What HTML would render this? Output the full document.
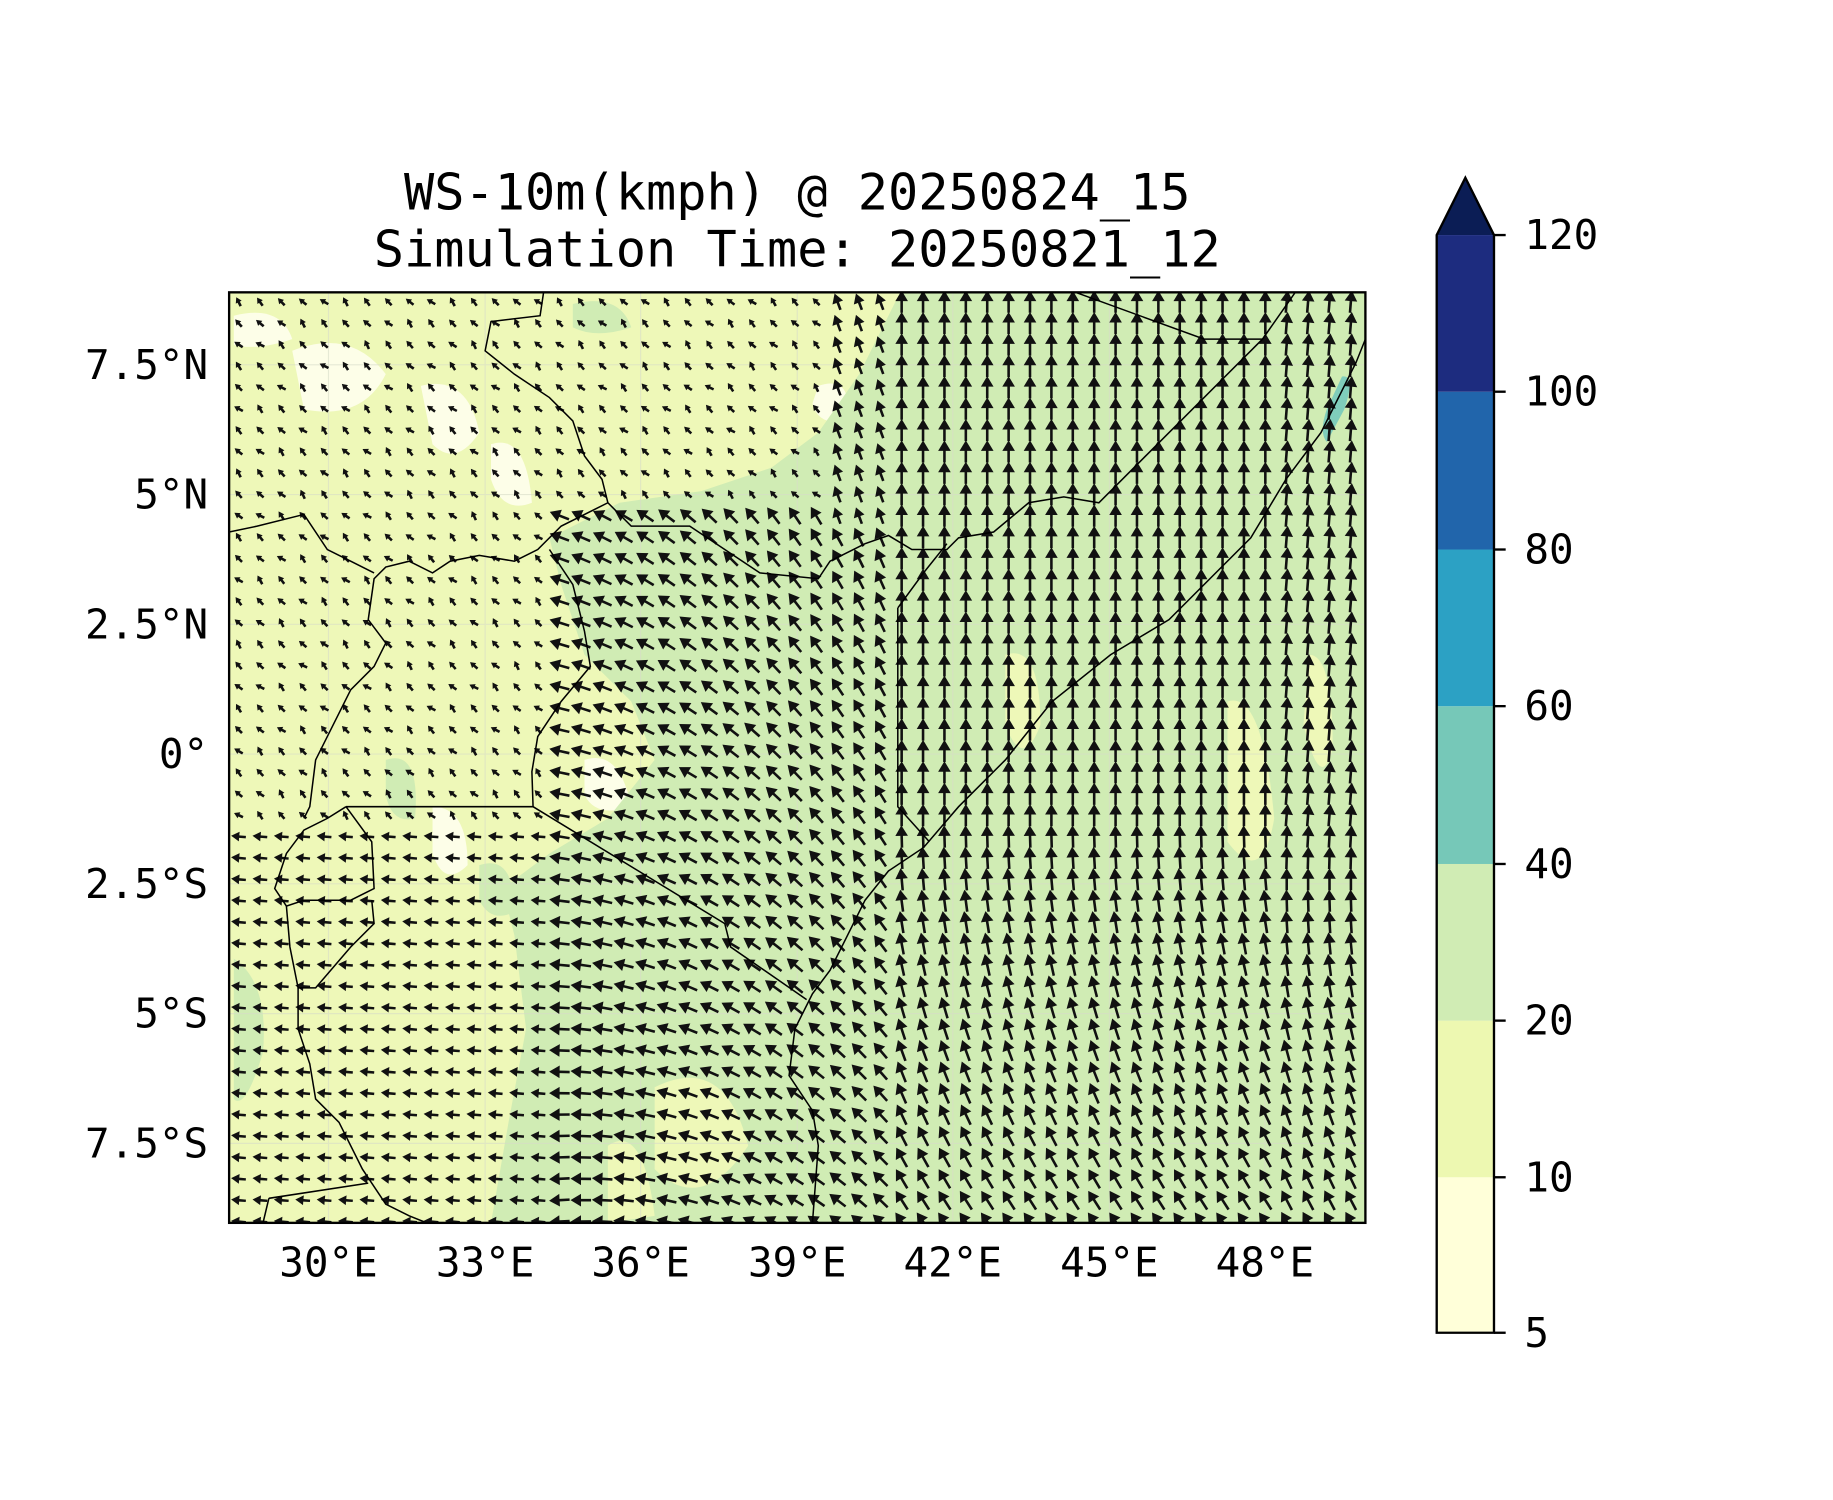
<!DOCTYPE html>
<html><head><meta charset="utf-8"><style>
html,body{margin:0;padding:0;background:#fff;}
svg{display:block;}
text{font-family:"DejaVu Sans Mono","Liberation Mono",monospace;fill:#000;}
</style></head><body>
<svg id="s" width="1833" height="1500" viewBox="0 0 1568 1283" xmlns="http://www.w3.org/2000/svg">
<defs><clipPath id="mc"><rect x="196" y="250" width="972" height="796"/></clipPath></defs>
<text x="682" y="179" font-size="43" text-anchor="middle">WS-10m(kmph) @ 20250824_15</text>
<text x="682" y="228" font-size="43" text-anchor="middle">Simulation Time: 20250821_12</text>
<g clip-path="url(#mc)">
<rect x="196" y="250" width="972" height="796" fill="#eef8b8"/>
<g fill="#fdfee8">
<path d="M250 300 Q300 280 330 320 Q310 360 260 350 Z"/>
<path d="M360 330 Q400 320 410 370 Q390 400 370 380 Z"/>
<path d="M420 380 Q450 370 455 430 Q430 440 420 410 Z"/>
<path d="M200 270 Q240 260 250 290 Q220 300 200 295 Z"/>
<path d="M700 330 Q730 320 725 360 Q700 365 695 345 Z"/>
<path d="M500 650 Q530 640 540 690 Q510 700 500 680 Z"/>
<path d="M370 690 Q400 690 400 740 Q380 760 370 730 Z"/>
</g>
<path fill="#d0ecb4" d="M770 250 L1168 250 L1168 1046 L420 1046 L435 960 L450 880 L440 800 L430 760 L470 730 L520 700 L560 650 L540 600 L500 560 L480 500 L470 460 L530 430 L600 420 L660 400 L700 370 L735 320 L760 270 Z"/>
<g fill="#eef8b8">
<path d="M860 560 Q890 550 890 620 Q875 660 860 620 Z"/>
<path d="M1050 600 Q1080 590 1090 700 Q1080 760 1050 720 Z"/>
<path d="M1120 560 Q1140 560 1140 640 Q1130 680 1115 620 Z"/>
<path d="M560 930 Q620 900 640 980 Q600 1040 560 1000 Z"/>
<path d="M520 980 Q550 960 560 1040 L520 1046 Z"/>
</g>
<g fill="#d0ecb4">
<path d="M200 820 Q230 840 225 900 Q210 950 200 940 Z"/>
<path d="M330 650 Q360 640 355 700 Q335 705 330 680 Z"/>
<path d="M410 740 Q440 730 440 780 Q420 790 410 770 Z"/>
<path d="M490 260 Q530 250 540 280 Q510 290 490 280 Z"/>
</g>
<path fill="#7fcdbb" d="M1148 322 Q1160 320 1150 350 L1135 378 Q1128 370 1135 350 Z"/>
<g stroke="#d8dcc8" stroke-width="1" opacity="0.6">
<line x1="281" y1="250" x2="281" y2="1046"/><line x1="415" y1="250" x2="415" y2="1046"/><line x1="548" y1="250" x2="548" y2="1046"/><line x1="682" y1="250" x2="682" y2="1046"/><line x1="815" y1="250" x2="815" y2="1046"/><line x1="949" y1="250" x2="949" y2="1046"/><line x1="1082" y1="250" x2="1082" y2="1046"/>
<line x1="196" y1="312" x2="1168" y2="312"/><line x1="196" y1="423" x2="1168" y2="423"/><line x1="196" y1="534" x2="1168" y2="534"/><line x1="196" y1="645" x2="1168" y2="645"/><line x1="196" y1="756" x2="1168" y2="756"/><line x1="196" y1="867" x2="1168" y2="867"/><line x1="196" y1="978" x2="1168" y2="978"/>
</g>
<g id="arrows" fill="#111"></g>
<g fill="none" stroke="#000" stroke-width="1.3">
<path d="M465 250 L462 270 L420 275 L415 300 L440 320 L470 340 L490 360 L500 390 L515 410 L520 430 L540 450 L590 450 L620 470 L650 490 L700 495 L710 480 L740 465 L760 458 L780 470 L810 470 L820 460 L850 455 L880 430 L910 425 L940 430 L1080 290 L1108 250"/>
<path d="M920 250 L1030 290 L1080 290"/>
<path d="M1168 290 L1160 310 L1130 370 L1100 410 L1070 460 L1000 530 L950 560 L900 600 L860 650 L820 690 L790 725 L760 745 L740 770 L725 800 L710 830 L695 850 L680 880 L675 920 L695 950 L700 980 L695 1046"/>
<path d="M768 520 L768 690 L795 720"/>
<path d="M768 520 L790 490 L810 465"/>
<path d="M520 430 L480 450 L460 470 L440 480 L410 475 L385 480 L370 490 L350 480 L330 485 L320 495 L315 530 L330 550 L320 570 L300 590 L290 610 L280 630 L270 650 L265 690 L260 700"/>
<path d="M196 455 L220 450 L260 440 L280 470 L300 480 L320 490"/>
<path d="M470 470 L490 500 L500 540 L505 570 L480 600 L460 630 L455 660 L456 690"/>
<path d="M296 690 L456 690 L620 790 L625 810 L690 855"/>
<path d="M296 690 L280 700 L260 710 L245 730 L235 760 L245 775 L260 770 L300 770 L320 760 L318 720 L296 690"/>
<path d="M245 775 L248 810 L255 845 L270 845 L300 810 L320 790 L318 770"/>
<path d="M255 845 L255 880 L265 910 L270 940 L290 960 L310 1000 L330 1030 L350 1040 L365 1046"/>
<path d="M230 1025 L315 1012"/>
<path d="M230 1025 L225 1046"/>
</g>
</g>
<rect x="196" y="250" width="972" height="796" fill="none" stroke="#000" stroke-width="2"/>
<g font-size="35" text-anchor="end">
<text x="178" y="324">7.5°N</text><text x="178" y="435">5°N</text><text x="178" y="546">2.5°N</text><text x="178" y="657">0°</text><text x="178" y="768">2.5°S</text><text x="178" y="879">5°S</text><text x="178" y="990">7.5°S</text>
</g>
<g font-size="35" text-anchor="middle">
<text x="281" y="1092">30°E</text><text x="415" y="1092">33°E</text><text x="548" y="1092">36°E</text><text x="682" y="1092">39°E</text><text x="815" y="1092">42°E</text><text x="949" y="1092">45°E</text><text x="1082" y="1092">48°E</text>
</g>
<rect x="1229" y="1007" width="49" height="133" fill="#ffffd9"/>
<rect x="1229" y="873" width="49" height="134" fill="#edf8b1"/>
<rect x="1229" y="739" width="49" height="134" fill="#d0ecb4"/>
<rect x="1229" y="604" width="49" height="135" fill="#76c8b8"/>
<rect x="1229" y="470" width="49" height="134" fill="#2ca1c4"/>
<rect x="1229" y="335" width="49" height="135" fill="#2165ab"/>
<rect x="1229" y="201" width="49" height="134" fill="#1d2c7f"/>
<polygon points="1229,201 1253.5,152 1278,201" fill="#0b1d55"/>
<path d="M1229 1140 L1229 201 L1253.5 152 L1278 201 L1278 1140 Z" fill="none" stroke="#000" stroke-width="2"/>
<g stroke="#000" stroke-width="2">
<line x1="1278" y1="201" x2="1288" y2="201"/><line x1="1278" y1="335" x2="1288" y2="335"/><line x1="1278" y1="470" x2="1288" y2="470"/><line x1="1278" y1="604" x2="1288" y2="604"/><line x1="1278" y1="739" x2="1288" y2="739"/><line x1="1278" y1="873" x2="1288" y2="873"/><line x1="1278" y1="1007" x2="1288" y2="1007"/><line x1="1278" y1="1140" x2="1288" y2="1140"/>
</g>
<g font-size="35">
<text x="1304" y="213">120</text><text x="1304" y="347">100</text><text x="1304" y="482">80</text><text x="1304" y="616">60</text><text x="1304" y="751">40</text><text x="1304" y="885">20</text><text x="1304" y="1019">10</text><text x="1304" y="1152">5</text>
</g>
</svg>
<script>
(function(){
var g=document.getElementById('arrows'),h='';
for(var y=258;y<1046;y+=18.3){
 for(var x=204;x<1168;x+=18.3){
  var ang,sp;
  if(x>760){ang=90+ (y>700? (y-700)/350*35 : 0) - (x>1100?5:0); sp=1;}
  else if(x>470 && y>430){
    var t=Math.max(0,Math.min(1,(760-x)/290));
    var s=Math.max(0,Math.min(1,(y-430)/600));
    ang=110+ t*50 + s*25; sp=0.9;
  } else if(y>700){ang=175; sp=0.55;}
  else {ang=135+((x*7+y*3)%40)-20; sp=0.25;}
  if(x>700&&x<770&&y<450){ang=110;sp=0.7;}
  var L=5+sp*14, r=ang*Math.PI/180, dx=Math.cos(r), dy=-Math.sin(r);
  var cx=x, cy=y, tx=cx+dx*L/2, ty=cy+dy*L/2, bx=cx-dx*L/2, by=cy-dy*L/2;
  var hl=Math.min(9,L*0.55), hw=hl*0.6, nx=-dy, ny=dx;
  var hx=tx-dx*hl, hy=ty-dy*hl, w=1.1;
  h+='<polygon points="'+[bx+nx*w,by+ny*w,hx+nx*w,hy+ny*w,hx+nx*hw,hy+ny*hw,tx,ty,hx-nx*hw,hy-ny*hw,hx-nx*w,hy-ny*w,bx-nx*w,by-ny*w].map(function(v){return v.toFixed(1)}).join(' ')+'"/>';
 }
}
g.innerHTML=h;
})();
</script>
</body></html>
